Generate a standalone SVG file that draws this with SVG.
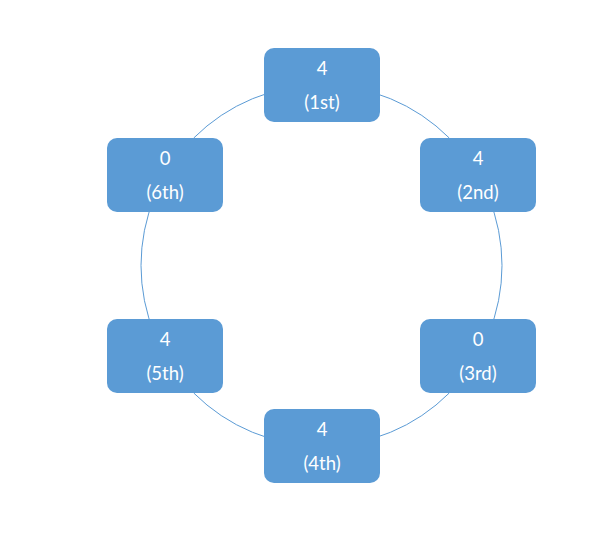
<svg xmlns="http://www.w3.org/2000/svg" width="615" height="537" viewBox="0 0 615 537">
<style>
.box{fill:#5B9BD5;}
.t{fill:#ffffff;font-family:Lato,"Liberation Sans",sans-serif;font-size:18.5px;text-anchor:middle;}
.ring{fill:none;stroke:#5B9BD5;stroke-width:1;}
</style>
<rect width="615" height="537" fill="#ffffff"/>
<g id="connectors">
<circle class="ring" cx="321.5" cy="265.5" r="180.5"/>
</g>
<g id="n1"><rect class="box" x="264" y="48" width="116" height="74" rx="10"/><text class="t" x="322" y="75">4</text><text class="t" x="322" y="109">(1st)</text></g>
<g id="n2"><rect class="box" x="420" y="138" width="116" height="74" rx="10"/><text class="t" x="478" y="165">4</text><text class="t" x="478" y="199">(2nd)</text></g>
<g id="n3"><rect class="box" x="420" y="319" width="116" height="74" rx="10"/><text class="t" x="478" y="346">0</text><text class="t" x="478" y="380">(3rd)</text></g>
<g id="n4"><rect class="box" x="264" y="409" width="116" height="74" rx="10"/><text class="t" x="322" y="436">4</text><text class="t" x="322" y="470">(4th)</text></g>
<g id="n5"><rect class="box" x="107" y="319" width="116" height="74" rx="10"/><text class="t" x="165" y="346">4</text><text class="t" x="165" y="380">(5th)</text></g>
<g id="n6"><rect class="box" x="107" y="138" width="116" height="74" rx="10"/><text class="t" x="165" y="165">0</text><text class="t" x="165" y="199">(6th)</text></g>
</svg>
